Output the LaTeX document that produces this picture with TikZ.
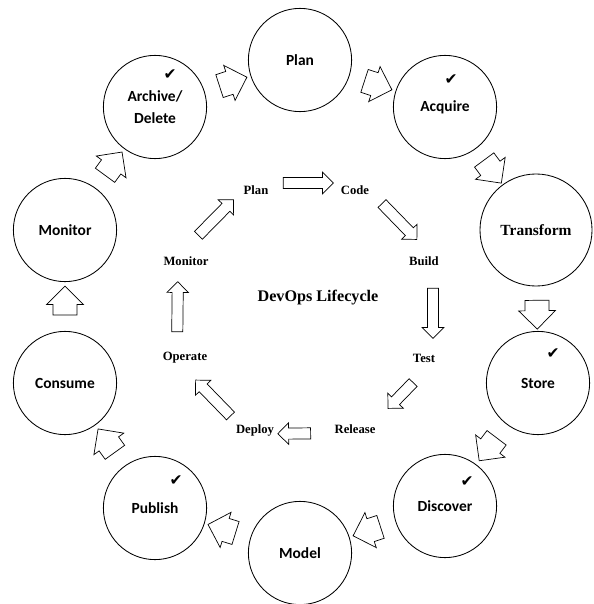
\documentclass[tikz,border=0pt]{standalone}
\usepackage{fontspec}
\setmainfont{Liberation Serif}
\newfontfamily\calibri{Carlito}
\newfontfamily\symbfont{DejaVu Sans}
\usetikzlibrary{shapes.arrows, positioning, calc}

\begin{document}
\begin{tikzpicture}[x=0.025cm, y=-0.025cm,
    every node/.style={font=\bfseries},
    stage/.style={circle, draw, line width=0.6pt, minimum size=2.58cm, inner sep=0pt,
                  align=center, font=\calibri\bfseries\fontsize{11}{15.6}\selectfont},
    bigarrow/.style={single arrow, draw, line width=0.5pt, minimum height=0.72cm,
                     minimum width=0.92cm, inner ysep=0.29cm, inner xsep=0pt,
                     single arrow head extend=0.16cm, sloped, allow upside down},
    smallarrow/.style={single arrow, draw, line width=0.5pt, minimum height=1.25cm,
                       minimum width=0.52cm, inner ysep=0.13cm, inner xsep=0pt,
                       single arrow head extend=0.13cm, sloped, allow upside down},
    phase/.style={font=\bfseries\fontsize{9}{10}\selectfont},
    tick/.style={font=\symbfont\fontsize{11}{11}\selectfont}
]
\useasboundingbox (0,0) rectangle (593,604);

\node[stage] (plan)  at (300, 60)  {Plan};
\node[stage] (acq)   at (445, 107) {Acquire};
\node[stage, minimum size=2.8cm, font=\bfseries\fontsize{11}{13}\selectfont]
             (trans) at (536, 230) {Transform};
\node[stage] (store) at (538, 383) {Store};
\node[stage] (disc)  at (445, 506) {Discover};
\node[stage] (model) at (300, 553) {Model};
\node[stage] (pub)   at (155, 508) {Publish};
\node[stage] (cons)  at (65, 383)  {Consume};
\node[stage] (mon)   at (65, 230)  {Monitor};
\node[stage] (arch)  at (155, 107) {Archive/\\Delete};

\node[tick] (tarch)  at (170, 75)  {✔};
\node[tick] (tacq)   at (451, 80)  {✔};
\node[tick] (tstore) at (553, 354) {✔};
\node[tick] (tdisc)  at (467, 482) {✔};
\node[tick] (tpub)   at (176, 481) {✔};

\path (arch)  -- node[bigarrow]{} (plan);
\path (plan)  -- node[bigarrow]{} (acq);
\path (acq)   -- node[bigarrow]{} (trans);
\path (trans) -- node[bigarrow]{} (store);
\path (store) -- node[bigarrow]{} (disc);
\path (disc)  -- node[bigarrow]{} (model);
\path (model) -- node[bigarrow]{} (pub);
\path (pub)   -- node[bigarrow]{} (cons);
\path (cons)  -- node[bigarrow]{} (mon);
\path (mon)   -- node[bigarrow]{} (arch);

\node[phase] (iplan) at (256, 190) {Plan};
\node[phase] (icode) at (355, 190) {Code};
\node[phase] (ibuild) at (424, 261) {Build};
\node[phase] (itest) at (424, 358) {Test};
\node[phase] (irel)  at (355, 429) {Release};
\node[phase] (idep)  at (255, 430) {Deploy};
\node[phase] (iop)   at (185, 358) {Operate};
\node[phase] (imon)  at (186, 261) {Monitor};
\node[font=\bfseries\fontsize{11.5}{13}\selectfont] (title) at (318, 298) {DevOps Lifecycle};

\path ($(iplan)+(0,-7)$)  -- node[smallarrow]{} ($(icode)+(0,-7)$);
\path ($(icode)+(8,-6)$)  -- node[smallarrow]{} ($(ibuild)+(8,-6)$);
\path ($(ibuild)+(9,1)$)  -- node[smallarrow]{} ($(itest)+(9,1)$);
\path ($(itest)+(13,0)$)  -- node[smallarrow, minimum height=0.9cm]{} ($(irel)+(13,0)$);
\path ($(irel)+(-8,4)$)   -- node[smallarrow, minimum height=0.82cm]{} ($(idep)+(-8,4)$);
\path ($(idep)+(-5,6)$)   -- node[smallarrow]{} ($(iop)+(-5,6)$);
\path ($(iop)+(-8,0)$)    -- node[smallarrow]{} ($(imon)+(-8,0)$);
\path ($(imon)+(-7,-6)$)  -- node[smallarrow]{} ($(iplan)+(-7,-6)$);
\end{tikzpicture}
\end{document}
